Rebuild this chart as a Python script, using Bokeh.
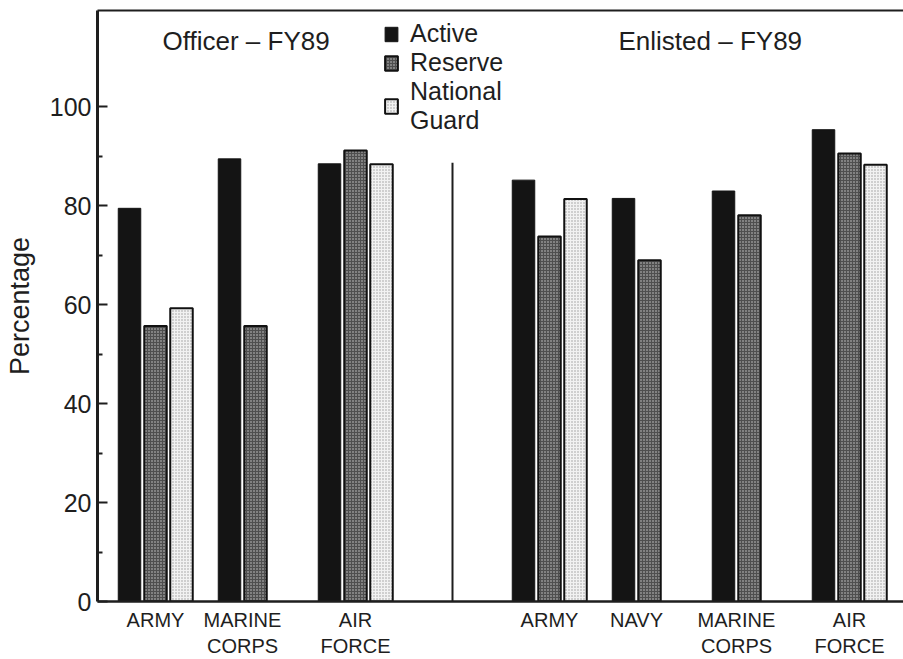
from bokeh.plotting import figure
from bokeh.models import (Range1d, FixedTicker, LinearAxis, Legend, LegendItem,
                          ColumnDataSource, Label)
from bokeh.embed import file_html
from bokeh.resources import INLINE

# ---- data ----
officer_branches = ["ARMY", "MARINE\nCORPS", "AIR\nFORCE"]
enlisted_branches = ["ARMY", "NAVY", "MARINE\nCORPS", "AIR\nFORCE"]
series_names = ["Active", "Reserve", "National\nGuard"]

officer_active = [79.5, 89.5, 88.5]
officer_reserve = [55.7, 55.7, 91.2]
officer_guard = [59.3, None, 88.4]

enlisted_active = [85.2, 81.5, 83.0, 95.4]
enlisted_reserve = [73.8, 69.0, 78.1, 90.6]
enlisted_guard = [81.4, None, None, 88.3]

section_titles = ["Officer \u2013 FY89", "Enlisted \u2013 FY89"]
y_ticks = [0, 20, 40, 60, 80, 100]
y_minor = [10, 30, 50, 70, 90]

# ---- layout helpers ----
SECTION_GAP = 3.94      # group-unit offset of the enlisted section
BAR_STEP = 0.26
BAR_W = 0.225
FONT = "Liberation Sans"
INK = "#1e1e1e"

groups = []  # (x_center, label, [values])
for i, b in enumerate(officer_branches):
    groups.append((i, b, [officer_active[i], officer_reserve[i], officer_guard[i]]))
for j, b in enumerate(enlisted_branches):
    groups.append((SECTION_GAP + j, b, [enlisted_active[j], enlisted_reserve[j], enlisted_guard[j]]))

series_src = [dict(x=[], top=[]) for _ in series_names]
tick_pos, tick_lab = [], []
for gx, lab, vals in groups:
    xs = []
    for k, v in enumerate(vals):
        if v is None:
            continue
        bx = gx + (k - 1) * BAR_STEP
        series_src[k]["x"].append(bx)
        series_src[k]["top"].append(v)
        xs.append(bx)
    tick_pos.append(round(sum(xs) / len(xs), 4))
    tick_lab.append(lab)

W, H = 903, 659
LEFT = 97
x_start = -0.58
frame_w = W - LEFT
p = figure(width=W, height=H, output_backend="svg", toolbar_location=None,
           x_range=Range1d(x_start, x_start + frame_w / 100.0),
           y_range=Range1d(0, 119.5),
           min_border_left=LEFT, min_border_right=0, min_border_top=10,
           min_border_bottom=0)
p.outline_line_color = None
p.grid.visible = False
p.background_fill_color = "white"

styles = [
    dict(fill_color="#141414", line_color="#141414", line_width=1),
    dict(fill_color="#4f4f4f", line_color="#111111", line_width=2,
         hatch_pattern="dot", hatch_color="#d0d0d0", hatch_scale=3, hatch_weight=1),
    dict(fill_color="#f2f2f2", line_color="#111111", line_width=2,
         hatch_pattern="dot", hatch_color="#9a9a9a", hatch_scale=3, hatch_weight=1),
]
renderers = []
for k, src in enumerate(series_src):
    r = p.vbar(x="x", top="top", bottom=0, width=BAR_W,
               source=ColumnDataSource(src), **styles[k])
    renderers.append(r)

# divider between sections
div_x = (2 + SECTION_GAP) / 2
DIVIDER_TOP = 88.7
p.segment(x0=[div_x], y0=[0], x1=[div_x], y1=[DIVIDER_TOP], line_color=INK, line_width=2)

# axes
xa = p.xaxis[0]
xa.ticker = FixedTicker(ticks=tick_pos)
xa.major_label_overrides = {t: l for t, l in zip(tick_pos, tick_lab)}
xa.major_tick_line_color = None
xa.minor_tick_line_color = None
xa.axis_line_width = 2.5
xa.axis_line_color = INK
xa.major_label_text_font = FONT
xa.major_label_text_font_size = "20px"
xa.major_label_text_color = INK
xa.major_label_standoff = 1

ya = p.yaxis[0]
ya.ticker = FixedTicker(ticks=y_ticks, minor_ticks=y_minor)
ya.axis_line_width = 3
ya.axis_line_color = INK
ya.major_tick_in = 10
ya.major_tick_out = 0
ya.minor_tick_in = 5
ya.minor_tick_out = 0
ya.major_tick_line_width = 2
ya.minor_tick_line_width = 2
ya.major_tick_line_color = INK
ya.minor_tick_line_color = INK
ya.major_label_text_font = FONT
ya.major_label_text_font_size = "25px"
ya.major_label_text_color = INK
ya.major_label_standoff = 6
ya.axis_label = "Percentage"
ya.axis_label_text_font = FONT
ya.axis_label_text_font_size = "27px"
ya.axis_label_text_font_style = "normal"
ya.axis_label_text_color = INK
ya.axis_label_standoff = 12

top_axis = LinearAxis(ticker=FixedTicker(ticks=[]), major_label_text_font_size="0px",
                      major_tick_line_color=None, minor_tick_line_color=None,
                      axis_line_width=2, axis_line_color=INK,
                      major_tick_out=0, major_label_standoff=0)
p.add_layout(top_axis, "above")

# section titles
for tx, txt in zip([0.07, 4.63], section_titles):
    p.add_layout(Label(x=tx, y=113.3, text=txt, text_font=FONT, text_font_size="26px",
                       text_baseline="middle", text_align="left", text_color=INK))

legend = Legend(items=[LegendItem(label=n, renderers=[r]) for n, r in zip(series_names, renderers)],
                location=(286, 466), glyph_width=16, glyph_height=18,
                label_text_font=FONT, label_text_font_size="25px", label_text_color=INK,
                label_standoff=11, spacing=0, padding=0, margin=0,
                background_fill_alpha=0, border_line_color=None)
p.add_layout(legend)

open("out.html", "w").write(file_html(p, INLINE))
